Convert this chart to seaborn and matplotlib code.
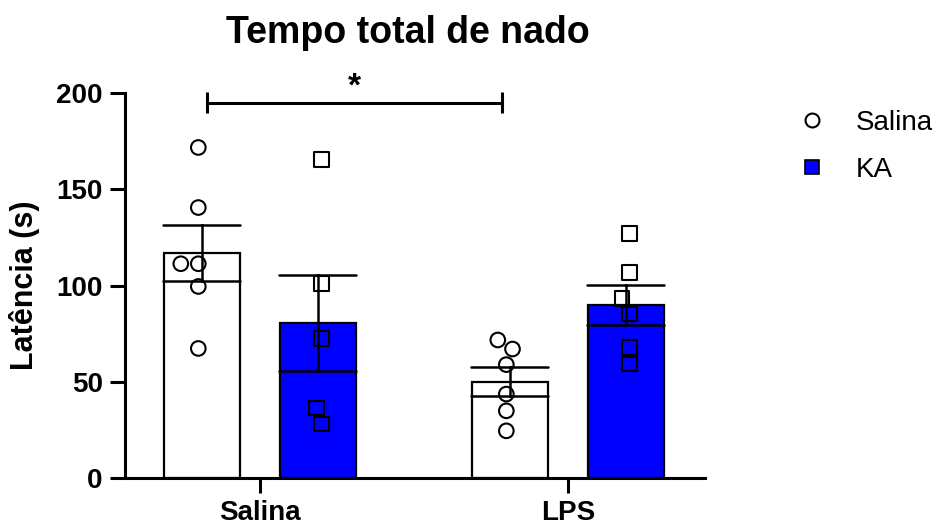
import matplotlib
matplotlib.use("Agg")
import matplotlib.pyplot as plt
from matplotlib.lines import Line2D
import seaborn as sns
import pandas as pd

# ---- data ----
tratamentos = ["Salina", "LPS"]
grupos = ["Salina", "KA"]
salina_salina = [171.7, 140.5, 111.3, 111.3, 99.5, 67.3]
salina_ka = [165.6, 100.9, 72.6, 36.3, 28.0]
lps_salina = [71.7, 67.0, 58.9, 43.6, 34.9, 24.5]
lps_ka = [126.9, 106.9, 93.1, 85.3, 67.9, 59.2]
yticks = [0, 50, 100, 150, 200]
titulo = "Tempo total de nado"
ylabel = "Latência (s)"
sig_label = "*"

rows = []
for trat, grp, vals in [("Salina", "Salina", salina_salina), ("Salina", "KA", salina_ka),
                        ("LPS", "Salina", lps_salina), ("LPS", "KA", lps_ka)]:
    for v in vals:
        rows.append({"trat": trat, "grupo": grp, "lat": v})
df = pd.DataFrame(rows)

sns.set_style("ticks")
plt.rcParams["font.family"] = ["Liberation Sans", "DejaVu Sans"]
plt.rcParams["text.color"] = "black"
plt.rcParams["axes.labelcolor"] = "black"
plt.rcParams["xtick.color"] = "black"
plt.rcParams["ytick.color"] = "black"
plt.rcParams["axes.edgecolor"] = "black"

fig = plt.figure(figsize=(9.4, 5.26), dpi=100)
ax = fig.add_axes([125 / 940, 1 - 478 / 526, 580 / 940, (478 - 93) / 526])

palette = {"Salina": "white", "KA": "#0000FF"}
sns.barplot(data=df, x="trat", y="lat", hue="grupo", order=tratamentos, hue_order=grupos,
            palette=palette, saturation=1, errorbar="se", capsize=0.5, width=0.753, gap=0.345,
            edgecolor="black", linewidth=1.6,
            err_kws={"color": "black", "linewidth": 1.8}, ax=ax, legend=False)

markers = {"Salina": "o", "KA": "s"}
for g in grupos:
    sub = df[df["grupo"] == g]
    n0 = len(ax.collections)
    sns.swarmplot(data=sub, x="trat", y="lat", hue="grupo", order=tratamentos, hue_order=grupos,
                  dodge=True, marker=markers[g], size=10.5, palette={"Salina": "white", "KA": "white"},
                  edgecolor="black", linewidth=1.5, ax=ax, legend=False)
    for c in ax.collections[n0:]:
        c.set_facecolor("none")
        c.set_edgecolor("black")
        c.set_zorder(5)

ax.set_ylim(0, 200)
ax.set_xlim(-0.438, 1.445)
ax.set_yticks(yticks)
ax.set_xlabel("")
ax.set_ylabel(ylabel, fontsize=22, fontweight="bold", color="black")
ax.yaxis.set_label_coords(-0.147, 0.5)
for s in ["top", "right"]:
    ax.spines[s].set_visible(False)
for s in ["left", "bottom"]:
    ax.spines[s].set_linewidth(2.2)
ax.tick_params(axis="both", length=11, width=2.2, labelsize=20, pad=5, colors="black")
for lab in ax.get_xticklabels() + ax.get_yticklabels():
    lab.set_fontweight("bold")

# significance bar
x1, x2, ys = -0.172, 0.786, 195
ax.plot([x1, x2], [ys, ys], color="black", lw=2.2, clip_on=False, solid_capstyle="butt")
for xx in (x1, x2):
    ax.plot([xx, xx], [ys - 5.5, ys + 5.5], color="black", lw=2.2, clip_on=False, solid_capstyle="butt")
ax.text((x1 + x2) / 2, 203, sig_label, ha="center", va="center", fontsize=24,
        fontweight="bold", clip_on=False, color="black")

fig.text(408 / 940, 1 - 43 / 526, titulo, ha="center", va="baseline", fontsize=27,
         fontweight="bold", color="black")

handles = [Line2D([], [], marker="o", ls="none", markerfacecolor="white", markeredgecolor="black",
                  markersize=10, markeredgewidth=1.5),
           Line2D([], [], marker="s", ls="none", markerfacecolor="#0000FF", markeredgecolor="black",
                  markersize=10, markeredgewidth=1.2)]
fig.legend(handles, grupos, loc="upper left", bbox_to_anchor=(795 / 940, 1 - 110 / 526),
           frameon=False, fontsize=20, handletextpad=1.0, labelspacing=0.75, handlelength=1.2,
           borderaxespad=0, borderpad=0)

fig.savefig("out.png", dpi=100)
